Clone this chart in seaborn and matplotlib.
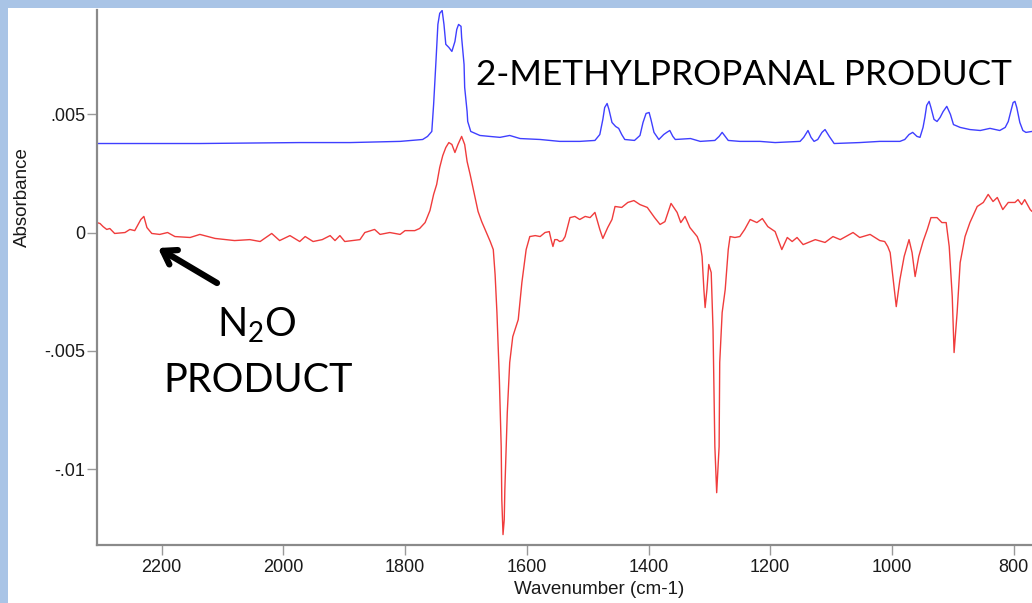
import matplotlib
matplotlib.use("Agg")
import matplotlib.pyplot as plt
from matplotlib.patches import Rectangle
import numpy as np
import pandas as pd
import seaborn as sns

# ---------------- data ----------------
blue_wn = [2306, 2219, 2137, 2055, 1973, 1890, 1808, 1771, 1763, 1756, 1753, 1749, 1746,
           1743, 1739, 1736, 1733, 1728, 1723, 1718, 1715, 1712, 1708, 1707, 1703, 1702,
           1698, 1697, 1692, 1677, 1661, 1644, 1628, 1611, 1578, 1546, 1513, 1488, 1480,
           1475, 1472, 1468, 1465, 1460, 1454, 1449, 1444, 1439, 1423, 1414, 1409, 1404,
           1399, 1396, 1391, 1383, 1375, 1370, 1365, 1360, 1356, 1331, 1315, 1291, 1284,
           1279, 1274, 1269, 1250, 1217, 1192, 1151, 1145, 1138, 1133, 1128, 1122, 1115,
           1110, 1103, 1095, 1053, 1020, 987, 979, 972, 966, 959, 954, 949, 946, 943, 939,
           936, 931, 926, 921, 916, 910, 904, 899, 888, 872, 855, 839, 823, 814, 809, 804,
           801, 798, 795, 790, 785, 780, 770]
blue_abs_milli = [3.76, 3.76, 3.76, 3.78, 3.80, 3.80, 3.85, 3.93, 4.06, 4.27, 5.41, 7.31, 8.79,
                  9.26, 9.38, 8.79, 7.95, 7.82, 7.65, 8.07, 8.58, 8.79, 8.71, 8.24, 7.10, 6.13,
                  5.11, 4.69, 4.27, 4.10, 4.06, 4.02, 4.10, 3.97, 3.93, 3.85, 3.85, 3.89, 4.14,
                  4.78, 5.28, 5.45, 5.20, 4.65, 4.48, 4.40, 4.14, 3.93, 3.89, 4.10, 4.65, 5.03,
                  5.07, 4.78, 4.23, 3.93, 4.14, 4.23, 4.31, 4.06, 3.93, 3.97, 3.85, 3.89, 4.06,
                  4.23, 4.06, 3.89, 3.85, 3.85, 3.80, 3.85, 4.02, 4.31, 4.02, 3.85, 3.93, 4.23,
                  4.35, 4.06, 3.76, 3.80, 3.85, 3.85, 3.93, 4.14, 4.23, 4.06, 4.02, 4.44, 4.86, 5.37, 5.54,
                  5.28, 4.78, 4.69, 4.86, 5.11, 5.33, 4.99, 4.56, 4.44, 4.35, 4.31, 4.40, 4.31, 4.44, 4.69, 5.20,
                  5.49, 5.54, 5.28, 4.65, 4.31, 4.23, 4.27]

red_wn = [2306, 2301, 2296, 2290, 2285, 2277, 2260, 2252, 2244, 2234, 2229, 2224, 2216, 2203,
          2190, 2178, 2153, 2137, 2112, 2080, 2055, 2038, 2019, 2006, 1989, 1973, 1964, 1951,
          1936, 1923, 1915, 1907, 1899, 1874, 1866, 1850, 1841, 1825, 1808, 1800, 1784, 1776,
          1767, 1759, 1753, 1748, 1743, 1738, 1733, 1728, 1723, 1718, 1713, 1707, 1702, 1698,
          1693, 1687, 1680, 1674, 1667, 1660, 1655, 1652, 1649, 1645, 1642, 1641, 1639, 1637,
          1636, 1632, 1628, 1623, 1614, 1608, 1601, 1595, 1586, 1578, 1570, 1563, 1560, 1557,
          1554, 1550, 1546, 1541, 1537, 1534, 1529, 1521, 1513, 1504, 1496, 1488, 1480, 1475,
          1467, 1460, 1455, 1444, 1434, 1424, 1414, 1402, 1390, 1381, 1373, 1363, 1353, 1347,
          1340, 1332, 1320, 1315, 1312, 1309, 1307, 1304, 1301, 1297, 1294, 1291, 1288, 1284,
          1283, 1279, 1274, 1269, 1266, 1258, 1250, 1242, 1233, 1222, 1213, 1204, 1192, 1181,
          1172, 1164, 1156, 1146, 1126, 1110, 1097, 1085, 1064, 1053, 1036, 1020, 1012, 1007,
          1003, 998, 993, 987, 980, 972, 967, 962, 956, 949, 942, 936, 926, 918, 911, 906, 901,
          898, 893, 888, 880, 872, 860, 850, 842, 834, 827, 818, 809, 798, 793, 787, 782, 773, 770]
red_abs_milli = [0.42, 0.38, 0.25, 0.13, 0.17, -0.04, 0.00, 0.13, 0.08, 0.55, 0.68, 0.21, -0.04, -0.08,
                 0.00, -0.17, -0.21, -0.08, -0.25, -0.34, -0.30, -0.38, -0.04, -0.34, -0.13, -0.38, -0.17, -0.38,
                 -0.30, -0.13, -0.34, -0.13, -0.38, -0.30, 0.00, 0.13, -0.08, 0.00, -0.08, 0.08, 0.08, 0.17,
                 0.42, 0.93, 1.61, 2.03, 2.75, 3.25, 3.59, 3.80, 3.72, 3.38, 3.72, 4.06, 3.72, 3.00,
                 2.45, 1.73, 0.89, 0.46, 0.04, -0.38, -0.72, -1.78, -3.38, -6.21, -9.04, -11.28, -12.76, -12.13,
                 -10.86, -7.61, -5.49, -4.40, -3.68, -2.11, -0.72, -0.17, -0.13, -0.17, 0.00, 0.04, -0.30, -0.59,
                 -0.30, -0.30, -0.38, -0.34, -0.17, 0.13, 0.63, 0.68, 0.55, 0.68, 0.63, 0.85, 0.13, -0.25,
                 0.21, 0.55, 1.10, 1.06, 1.27, 1.35, 1.18, 1.06, 0.63, 0.34, 0.46, 1.23, 0.85, 0.42,
                 0.68, 0.21, -0.17, -0.51, -1.01, -2.41, -3.17, -2.41, -1.35, -1.69, -4.10, -9.04, -10.99, -9.04,
                 -5.49, -3.38, -2.41, -0.72, -0.17, -0.21, -0.17, 0.13, 0.55, 0.42, 0.59, 0.25, 0.04, -0.72,
                 -0.21, -0.38, -0.21, -0.51, -0.30, -0.42, -0.17, -0.30, 0.00, -0.21, -0.08, -0.34, -0.38, -0.59,
                 -0.85, -1.99, -3.13, -1.99, -1.01, -0.30, -0.85, -1.86, -1.01, -0.38, 0.13, 0.63, 0.63, 0.42, 0.42, -0.59, -2.71,
                 -5.07, -3.38, -1.27, -0.17, 0.42, 1.10, 1.27, 1.61, 1.31, 1.48, 0.97, 1.27, 1.27, 1.39, 1.18, 1.39, 0.97, 0.89]

x_ticks = [2200, 2000, 1800, 1600, 1400, 1200, 1000, 800]
x_tick_labels = ["2200", "2000", "1800", "1600", "1400", "1200", "1000", "800"]
y_ticks = [0.005, 0.0, -0.005, -0.01]
y_tick_labels = [".005", "0", "-.005", "-.01"]

blue_df = pd.DataFrame({"wn": blue_wn, "absorbance": np.array(blue_abs_milli) * 1e-3})
red_df = pd.DataFrame({"wn": red_wn, "absorbance": np.array(red_abs_milli) * 1e-3})

# ---------------- figure ----------------
sns.set_style("white")
plt.rcParams["font.family"] = ["Liberation Sans", "DejaVu Sans"]
plt.rcParams["mathtext.fontset"] = "custom"
plt.rcParams["mathtext.rm"] = "Lato"
plt.rcParams["mathtext.it"] = "Lato"

W, H = 1032, 603
fig = plt.figure(figsize=(W / 100, H / 100), dpi=100)
fig.patch.set_facecolor("#a9c4e6")
fig.patches.append(Rectangle((8 / W, 0), 1 - 8 / W, 1 - 8 / H, transform=fig.transFigure,
                             facecolor="white", edgecolor="none", zorder=-10))

ax = fig.add_axes([97 / W, 1 - 545 / H, 1 - 97 / W, (545 - 10) / H])
ax.set_zorder(1)
ax.set_facecolor("white")

sns.lineplot(data=blue_df, x="wn", y="absorbance", color="#3f3fff", linewidth=1.0,
             estimator=None, ax=ax)
sns.lineplot(data=red_df, x="wn", y="absorbance", color="#f03c3c", linewidth=1.0,
             estimator=None, ax=ax)

ax.set_xlim(2306, 770)
ax.set_ylim(-0.0132, 0.0094)
ax.set_xticks(x_ticks)
ax.set_xticklabels(x_tick_labels)
ax.set_yticks(y_ticks)
ax.set_yticklabels(y_tick_labels)
ax.set_xlabel("")
ax.set_ylabel("")

for side in ["top", "right"]:
    ax.spines[side].set_visible(False)
for side in ["left", "bottom"]:
    ax.spines[side].set_color("#8a8a8a")
    ax.spines[side].set_linewidth(1.6)

ax.tick_params(axis="x", direction="out", length=7, width=1, color="#9a9a9a",
               labelsize=13, labelcolor="#1a1a1a", pad=3, bottom=True)
ax.tick_params(axis="y", direction="out", length=7, width=1, color="#9a9a9a",
               labelsize=13, labelcolor="#1a1a1a", pad=1.5, left=True)

fig.text(599 / W, 1 - 590 / H, "Wavenumber (cm-1)", ha="center", va="center",
         fontsize=13.5, color="#1a1a1a")
fig.text(22 / W, 1 - 197 / H, "Absorbance", ha="center", va="center", rotation=90,
         fontsize=13.5, color="#1a1a1a")

# annotations
ax.text((476 - 97) / (W - 97), 1 - (75 - 10) / (545 - 10),
        "2-METHYLPROPANAL PRODUCT", transform=ax.transAxes, ha="left", va="center",
        fontsize=25.3, family="Lato", color="black", zorder=5)
ax.text((257 - 97) / (W - 97), 1 - (325 - 10) / (545 - 10), r"N$_{\mathrm{2}}$O",
        transform=ax.transAxes, ha="center", va="center",
        fontsize=28.5, family="Lato", color="black", zorder=5)
ax.text((258 - 97) / (W - 97), 1 - (380 - 10) / (545 - 10), "PRODUCT",
        transform=ax.transAxes, ha="center", va="center",
        fontsize=28.5, family="Lato", color="black", zorder=5)
ax.annotate("", xy=(158, H - 248), xycoords="figure pixels",
            xytext=(217, H - 283), textcoords="figure pixels",
            annotation_clip=False,
            arrowprops=dict(arrowstyle="->,head_length=0.9,head_width=0.6",
                            lw=4.5, color="black", shrinkA=0, shrinkB=0))

fig.savefig("out.png", dpi=100, facecolor=fig.get_facecolor())
